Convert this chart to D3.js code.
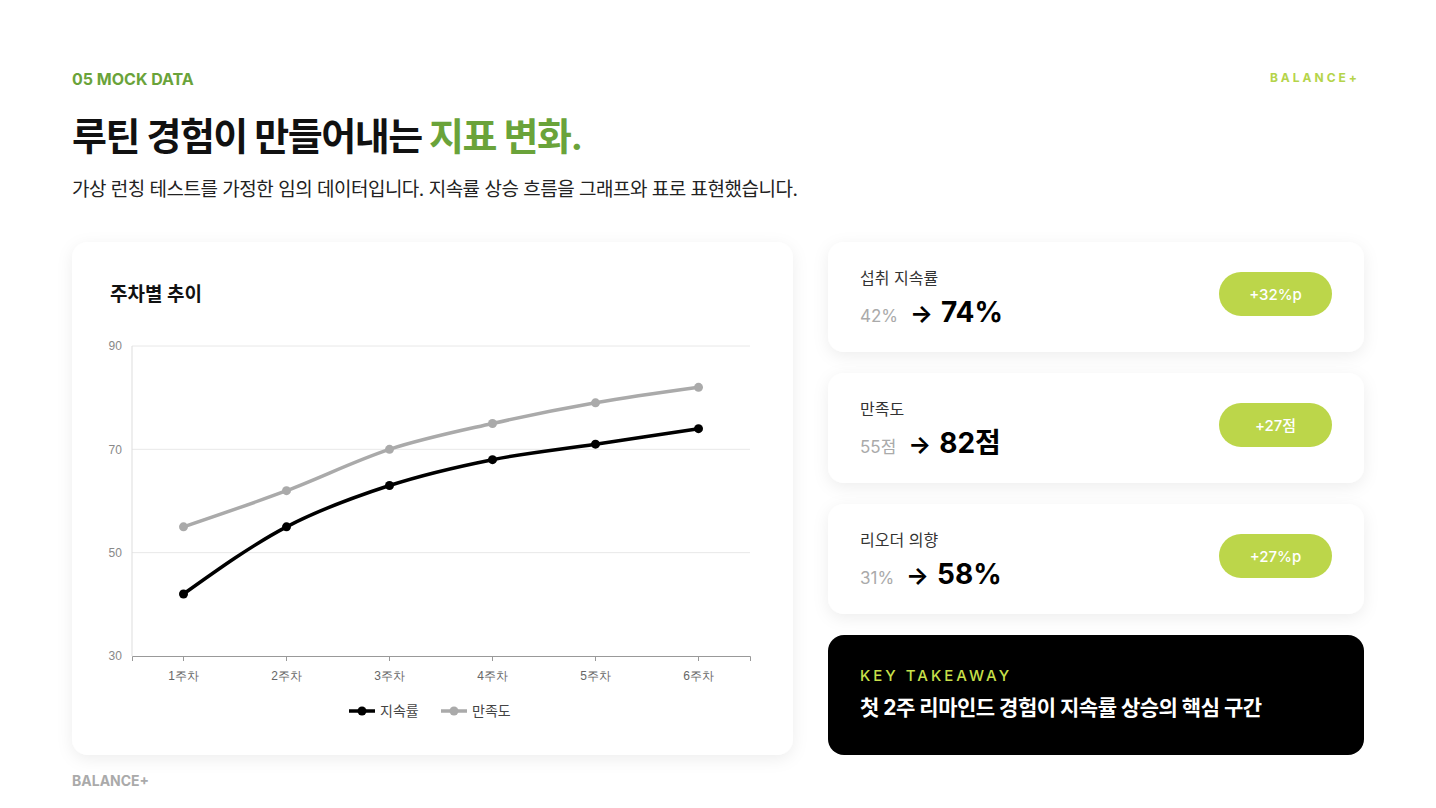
<!DOCTYPE html><html><head><meta charset="utf-8"><script src="https://cdn.jsdelivr.net/npm/d3@7"></script>
<style>body{margin:0;background:#fff}svg{font-family:Inter,"Noto Sans CJK KR",sans-serif}</style></head><body><svg id="s" width="1436" height="808"></svg><script>
const weeks=["1주차","2주차","3주차","4주차","5주차","6주차"];
const retention=[42,55,63,68,71,74];
const satisfaction=[55,62,70,75,79,82];
const yTicks=[30,50,70,90];
const cards=[{label:"섭취 지속률",from:"42%",to:"74%",badge:"+32%p"},{label:"만족도",from:"55점",to:"82점",badge:"+27점"},{label:"리오더 의향",from:"31%",to:"58%",badge:"+27%p"}];
const svg=d3.select("#s");
const defs=svg.append("defs");
const f=defs.append("filter").attr("id","sh").attr("x","-10%").attr("y","-10%").attr("width","120%").attr("height","130%");
f.append("feDropShadow").attr("dx",0).attr("dy",4).attr("stdDeviation",8).attr("flood-color","#000").attr("flood-opacity",0.07);
svg.append("text").attr("x",72).attr("y",85).attr("fill","#6aa33a").attr("font-weight",700).attr("font-size",16).text("05 MOCK DATA");
svg.append("text").attr("x",1360).attr("y",82).attr("text-anchor","end").attr("fill","#b5d44a").attr("font-weight",700).attr("font-size",12).attr("letter-spacing",3).text("BALANCE+");
const t=svg.append("text").attr("x",72).attr("y",150).attr("font-weight",700).attr("font-size",38).attr("letter-spacing",-1.5).attr("fill","#111");
t.append("tspan").text("루틴 경험이 만들어내는 ");t.append("tspan").attr("fill","#6aa33a").text("지표 변화.");
svg.append("text").attr("x",72).attr("y",196).attr("font-size",19).attr("fill","#222").attr("letter-spacing",-0.5).text("가상 런칭 테스트를 가정한 임의 데이터입니다. 지속률 상승 흐름을 그래프와 표로 표현했습니다.");
svg.append("text").attr("x",72).attr("y",786).attr("font-size",14).attr("font-weight",700).attr("fill","#aaa").text("BALANCE+");
svg.append("rect").attr("x",72).attr("y",242).attr("width",721).attr("height",513).attr("rx",16).attr("fill","#fff").attr("filter","url(#sh)");
svg.append("text").attr("x",110).attr("y",301).attr("font-size",19).attr("font-weight",700).attr("fill","#111").text("주차별 추이");
const x=d3.scaleBand().domain(weeks).range([132,750]);
const y=d3.scaleLinear().domain([30,90]).range([656,346]);
const g=svg.append("g");
g.selectAll(".gl").data(yTicks.slice(1)).join("line").attr("x1",132).attr("x2",750).attr("y1",d=>y(d)).attr("y2",d=>y(d)).attr("stroke","#e8e8e8");
g.append("line").attr("x1",132).attr("x2",132).attr("y1",346).attr("y2",656).attr("stroke","#ddd");
const xa=g.append("g").attr("transform","translate(0,656)").call(d3.axisBottom(x).tickSizeOuter(0).tickSize(5));
xa.select(".domain").attr("stroke","#999");xa.selectAll("line").attr("stroke","#999");
xa.selectAll("text").attr("fill","#666").attr("font-size",12).attr("dy","1.3em");
const ya=g.append("g").attr("transform","translate(132,0)").call(d3.axisLeft(y).tickValues(yTicks).tickSize(0));
ya.select(".domain").remove();ya.selectAll("text").attr("fill","#888").attr("font-size",12).attr("dx","-0.6em");
const line=d3.line().x((d,i)=>x(weeks[i])+x.bandwidth()/2).y(d=>y(d)).curve(d3.curveMonotoneX);
[[satisfaction,"#aaa"],[retention,"#000"]].forEach(([data,c])=>{
 g.append("path").attr("d",line(data)).attr("fill","none").attr("stroke",c).attr("stroke-width",3.5);
 g.selectAll(null).data(data).join("circle").attr("cx",(d,i)=>x(weeks[i])+x.bandwidth()/2).attr("cy",d=>y(d)).attr("r",4.5).attr("fill",c);
});
[["지속률","#000",349],["만족도","#aaa",441]].forEach(([n,c,lx])=>{
 g.append("line").attr("x1",lx).attr("x2",lx+26).attr("y1",711).attr("y2",711).attr("stroke",c).attr("stroke-width",3.5);
 g.append("circle").attr("cx",lx+13).attr("cy",711).attr("r",4.5).attr("fill",c);
 g.append("text").attr("x",lx+31).attr("y",716).attr("font-size",14).attr("fill","#444").text(n);
});
cards.forEach((c,i)=>{
 const cy=242+i*131;
 const cg=svg.append("g").attr("transform",`translate(828,${cy})`);
 cg.append("rect").attr("width",536).attr("height",110).attr("rx",16).attr("fill","#fff").attr("filter","url(#sh)");
 cg.append("text").attr("x",32).attr("y",42).attr("font-size",16).attr("fill","#333").text(c.label);
 const tx=cg.append("text").attr("x",32).attr("y",80);
 tx.append("tspan").attr("font-size",17).attr("fill","#aaa").text(c.from);
 tx.append("tspan").attr("dx",12).attr("font-size",24).attr("font-weight",700).attr("fill","#000").text("→");
 tx.append("tspan").attr("dx",8).attr("font-size",28).attr("font-weight",700).attr("fill","#000").text(c.to);
 cg.append("rect").attr("x",391).attr("y",30).attr("width",113).attr("height",44).attr("rx",22).attr("fill","#bcd64a");
 cg.append("text").attr("x",447.5).attr("y",58).attr("text-anchor","middle").attr("font-size",15).attr("font-weight",500).attr("fill","#fff").text(c.badge);
});
const kg=svg.append("g").attr("transform","translate(828,635)");
kg.append("rect").attr("width",536).attr("height",120).attr("rx",16).attr("fill","#000");
kg.append("text").attr("x",32).attr("y",46).attr("font-size",15).attr("font-weight",500).attr("letter-spacing",3).attr("fill","#c8e04a").text("KEY TAKEAWAY");
kg.append("text").attr("x",32).attr("y",80).attr("font-size",21).attr("font-weight",700).attr("letter-spacing",-0.5).attr("fill","#fff").text("첫 2주 리마인드 경험이 지속률 상승의 핵심 구간");
</script></body></html>
